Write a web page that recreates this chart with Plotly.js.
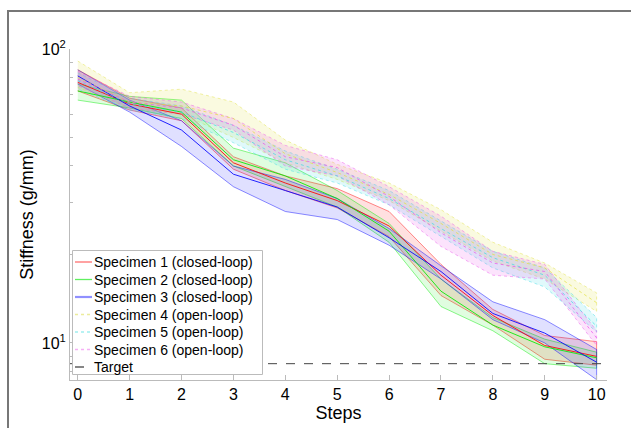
<!DOCTYPE html>
<html><head><meta charset="utf-8">
<script src="https://cdn.plot.ly/plotly-3.0.1.min.js"></script>
<style>
html,body{margin:0;padding:0;background:#fff;}
#wrap{position:relative;width:631px;height:428px;overflow:hidden;}
#frame{position:absolute;left:7px;top:10px;width:700px;height:500px;border-top:2px solid #777;border-left:2px solid #777;pointer-events:none;z-index:5;}
#chart{position:absolute;left:0;top:0;width:631px;height:428px;}
</style></head>
<body><div id="wrap"><div id="chart"></div><div id="frame"></div></div>
<script>
const steps = [0,1,2,3,4,5,6,7,8,9,10];
const target = 8.5;

const names = ["Specimen 1 (closed-loop)","Specimen 2 (closed-loop)","Specimen 3 (closed-loop)",
               "Specimen 4 (open-loop)","Specimen 5 (open-loop)","Specimen 6 (open-loop)"];
const targetName = "Target";

const s1Mean = [77, 65, 60, 41, 35, 30.5, 25, 17, 12.4, 9.8, 9.0];
const s1Lo   = [72, 62, 57, 39, 33, 28.8, 23, 14.5, 11.5, 8.8, 8.4];
const s1Hi   = [85, 68, 63, 43, 37, 33.5, 28, 18.5, 13.0, 10.6, 10.1];

const s2Mean = [72, 66, 61, 42, 37, 31, 24, 15, 11.5, 9.7, 8.9];
const s2Lo   = [67, 63, 58, 40, 34, 29, 22, 13.3, 11.0, 8.5, 8.2];
const s2Hi   = [76, 69, 67, 46, 41, 33, 25.5, 16.5, 12.2, 10.3, 9.3];

const s3Mean = [81, 64, 53, 37.5, 33, 29, 22.8, 17.5, 12.6, 10.8, 8.6];
const s3Lo   = [76, 61, 46.6, 34, 28, 26.3, 21.5, 16.5, 12.0, 10.0, 7.5];
const s3Hi   = [85, 67, 57, 40, 36, 31, 24.5, 18.3, 13.8, 12.0, 9.5];

const s4Mean = [80, 66, 64, 58, 44, 38, 32, 25.5, 20, 18, 13.7];
const s4Lo   = [74, 63, 60, 50, 41, 36, 30.5, 24, 19, 16.5, 12.8];
const s4Hi   = [91, 71, 73, 66, 49, 40.5, 35, 28.4, 22, 18.7, 14.8];

const s5Mean = [78, 65, 61, 52, 42, 37, 31, 24.5, 19.5, 17, 11.4];
const s5Lo   = [73, 62, 58, 48, 39, 35, 29.5, 23, 18, 15.5, 10.9];
const s5Hi   = [83, 68, 64, 55, 45, 39, 33, 26, 20.5, 18, 12.2];

const s6Mean = [79, 66, 63, 55, 43, 39.5, 31.5, 23.7, 18.7, 17.5, 10.4];
const s6Lo   = [75, 63, 60, 53, 40, 37, 29.5, 21.3, 17, 16.5, 9.8];
const s6Hi   = [84, 69, 66, 58, 47, 42, 34, 27, 20.5, 18.5, 11];

const means = [s1Mean,s2Mean,s3Mean,s4Mean,s5Mean,s6Mean];
const los = [s1Lo,s2Lo,s3Lo,s4Lo,s5Lo,s6Lo];
const his = [s1Hi,s2Hi,s3Hi,s4Hi,s5Hi,s6Hi];
const rgb = ["255,0,0","0,235,0","0,0,255","225,225,60","60,220,230","235,80,235"];
const legCol = ["#ff7070","#60f060","#9090ff","#ecec9c","#a0eef0","#f5b0f5"];
const open = [false,false,false,true,true,true];

const xRange = [-0.15, 10.2];
const yRange = [Math.log10(7.48), 2];

const traces = [];
for (let i=0;i<6;i++){
  const bx = steps.concat(steps.slice().reverse());
  const by = his[i].concat(los[i].slice().reverse());
  traces.push({x:bx, y:by, type:'scatter', mode:'lines', fill:'toself',
    fillcolor:'rgba('+rgb[i]+','+(open[i]?0.16:0.12)+')',
    line:{color:'rgba('+rgb[i]+',0.45)', width:1, dash: open[i]?'dot':'solid'},
    showlegend:false, hoverinfo:'skip'});
}
for (let i=0;i<6;i++){
  traces.push({x:steps, y:means[i], type:'scatter', mode:'lines', name:names[i], showlegend:false,
    line:{color: open[i] ? 'rgba('+rgb[i]+',0.7)' : 'rgba('+rgb[i]+',0.85)', width:1, dash: open[i]?'dot':'solid'}});
}
traces.push({x:xRange, y:[target,target], type:'scatter', mode:'lines', name:targetName, showlegend:false,
  line:{color:'#444', width:1, dash:'dash'}});

const plotL = 70, plotR = 607, plotT = 49, plotB = 380;
const px = v => (v - plotL) / (plotR - plotL);
const py = v => (plotB - v) / (plotB - plotT);
const shapes = [{type:'rect', xref:'paper', yref:'paper', x0:px(72.5), x1:px(262.5), y0:py(374.5), y1:py(250.5),
  fillcolor:'#fff', line:{color:'#bbb', width:1}, layer:'above'}];
const annotations = [];
const font = "'Liberation Sans', Arial, Helvetica, sans-serif";
const legNames = names.concat([targetName]);
for (let i=0;i<7;i++){
  const yy = 262 + i*17.5;
  let col, dash, w = 1.3;
  if (i<6){ col = legCol[i]; dash = open[i]?'dot':'solid'; if(i===2){w=2.2;} }
  else { col = '#444'; dash = 'dash'; }
  shapes.push({type:'line', xref:'paper', yref:'paper', x0:px(75), x1:px(92), y0:py(yy), y1:py(yy),
    line:{color:col, width:w, dash:dash}, layer:'above'});
  annotations.push({xref:'paper', yref:'paper', x:px(93), y:py(yy), xanchor:'left', yanchor:'middle',
    text:legNames[i], showarrow:false, borderpad:0, font:{family:font, size:14, color:'#000'}});
}

const layout = {
  width:631, height:428,
  margin:{l:70, r:24, t:49, b:48},
  paper_bgcolor:'rgba(0,0,0,0)', plot_bgcolor:'#fff',
  font:{family:font, color:'#000', size:16},
  showlegend:false,
  shapes:shapes, annotations:annotations,
  xaxis:{range:xRange, tickvals:steps, ticktext:steps.map(String),
    showline:true, linecolor:'#bbb', linewidth:1, mirror:false,
    ticks:'inside', ticklen:5, tickcolor:'#bbb', showgrid:false, zeroline:false,
    tickfont:{size:16}, title:{text:'Steps', font:{size:18}, standoff:4}},
  yaxis:{type:'log', range:yRange, tickvals:[10,100], ticktext:['10<sup>1</sup>','10<sup>2</sup>'],
    showline:true, linecolor:'#bbb', linewidth:1,
    ticks:'inside', ticklen:5, tickcolor:'#bbb', showgrid:false, zeroline:false,
    minor:{tickvals:[8,9,20,30,40,50,60,70,80,90], ticks:'inside', ticklen:3, tickcolor:'#bbb', showgrid:false},
    tickfont:{size:16}, title:{text:'Stiffness (g/mm)', font:{size:18}, standoff:3}}
};
Plotly.newPlot('chart', traces, layout, {staticPlot:true, displayModeBar:false});
</script></body></html>
